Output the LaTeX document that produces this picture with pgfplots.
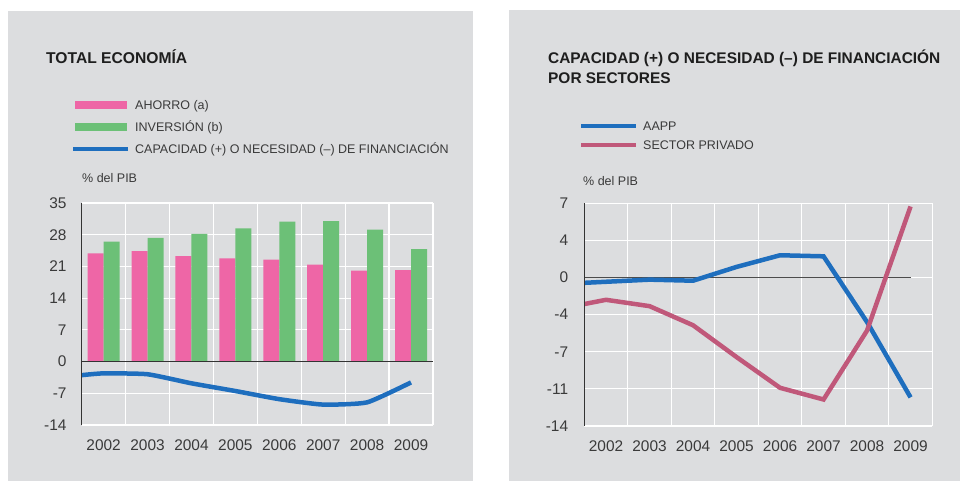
\documentclass[border=0pt]{standalone}
\usepackage{fontspec}
\setmainfont{Liberation Sans}
\usepackage{pgfplots}
\pgfplotsset{compat=1.18}
\definecolor{bg}{HTML}{DCDDDF}
\definecolor{pinkbar}{HTML}{EE66A6}
\definecolor{greenbar}{HTML}{6CC077}
\definecolor{blueline}{HTML}{1E6EBE}
\definecolor{maroonline}{HTML}{C0587A}
\definecolor{txt}{HTML}{3A3A3A}
\definecolor{titlec}{HTML}{1E1E1E}
\pgfplotsset{
  panel/.style={
    scale only axis, anchor=south west, clip=false,
    xmin=-0.5, xmax=7.5,
    xtick={0,1,2,3,4,5,6,7},
    xticklabels={2002,2003,2004,2005,2006,2007,2008,2009},
    minor xtick={-0.5,0.5,1.5,2.5,3.5,4.5,5.5,6.5,7.5},
    xminorgrids=true, ymajorgrids=true, xmajorgrids=false,
    major grid style={white, line width=1.2bp},
    minor grid style={white, line width=1.2bp},
    major tick length=0pt, minor tick length=0pt,
    axis line style={draw=none},
    tick label style={font=\fontsize{15.5}{18}\selectfont, text=txt, inner sep=0pt},
    xticklabel style={yshift=-15bp},
    yticklabel style={xshift=-15bp},
  }
}
\begin{document}
\begin{tikzpicture}
\useasboundingbox (0,0) rectangle (960bp,481bp);
\fill[white] (0,0) rectangle (960bp,481bp);
\begin{scope}[x=1bp,y=1bp]
\fill[bg] (8,0) rectangle (473,470);
\fill[bg] (509,0) rectangle (960,471);
% left titles and legend
\node[anchor=base west, inner sep=0, font=\fontsize{15.7}{18}\selectfont\bfseries, text=titlec] at (46,417.5) {TOTAL ECONOMÍA};
\fill[pinkbar] (75,372) rectangle (127,380);
\fill[greenbar] (75,350.3) rectangle (127,358.3);
\draw[blueline, line width=4bp] (73,331.7) -- (128,331.7);
\begin{scope}[every node/.style={anchor=base west, inner sep=0, font=\fontsize{12.55}{15}\selectfont, text=txt}]
\node at (135,371.6) {AHORRO (a)};
\node at (135,350) {INVERSIÓN (b)};
\node at (135,327.3) {CAPACIDAD (+) O NECESIDAD (–) DE FINANCIACIÓN};
\node at (82,298.6) {\% del PIB};
\end{scope}
% right titles and legend
\node[anchor=base west, inner sep=0, font=\fontsize{15.5}{18}\selectfont\bfseries, text=titlec] at (548,417) {CAPACIDAD (+) O NECESIDAD (–) DE FINANCIACIÓN};
\node[anchor=base west, inner sep=0, font=\fontsize{15.5}{18}\selectfont\bfseries, text=titlec] at (548,397.7) {POR SECTORES};
\draw[blueline, line width=3.8bp] (581,355.3) -- (636,355.3);
\draw[maroonline, line width=3.8bp] (581,336) -- (636,336);
\begin{scope}[every node/.style={anchor=base west, inner sep=0, font=\fontsize{12.55}{15}\selectfont, text=txt}]
\node at (643,351) {AAPP};
\node at (643,331.6) {SECTOR PRIVADO};
\node at (583,295.6) {\% del PIB};
\end{scope}
\end{scope}

% left axis
\begin{axis}[panel, at={(81.7bp,56bp)}, width=351.3bp, height=222bp,
  ymin=-14, ymax=35,
  ytick={-14,-7,0,7,14,21,28,35},
  yticklabels={-14,-7,0,7,14,21,28,35}]
\addplot[ybar, bar width=16bp, bar shift=-8bp, fill=pinkbar, draw=none]
  coordinates {(0,23.9)(1,24.4)(2,23.3)(3,22.8)(4,22.5)(5,21.4)(6,20.1)(7,20.2)};
\addplot[ybar, bar width=16bp, bar shift=8bp, fill=greenbar, draw=none]
  coordinates {(0,26.5)(1,27.3)(2,28.2)(3,29.4)(4,30.9)(5,31.0)(6,29.1)(7,24.8)};
\addplot[black!80, line width=0.9bp, forget plot] coordinates {(-0.5,0)(7.5,0)};
\addplot[blueline, line width=4.5bp, smooth, tension=0.3]
  coordinates {(-0.5,-3.0)(0,-2.6)(1,-2.8)(2,-4.8)(3,-6.5)(4,-8.3)(5,-9.5)(6,-9.0)(7,-4.6)};
\draw[black!80, line width=0.9bp] (rel axis cs:0,0) -- (rel axis cs:0,1);
\end{axis}

% right axis
\begin{axis}[panel, at={(584.3bp,55bp)}, width=348bp, height=222.7bp,
  ymin=-14, ymax=7,
  ytick={-14,-10.5,-7,-3.5,0,3.5,7},
  yticklabels={-14,-11,-7,-4,0,4,7},
  yticklabel style={xshift=-1bp}]
\addplot[black!70, line width=0.9bp, forget plot] coordinates {(-0.5,0)(7,0)};
\addplot[blueline, line width=4.5bp]
  coordinates {(-0.5,-0.5)(0,-0.4)(1,-0.2)(2,-0.3)(3,1.0)(4,2.1)(5,2.0)(6,-4.2)(7,-11.3)};
\addplot[maroonline, line width=4.5bp]
  coordinates {(-0.5,-2.5)(0,-2.1)(1,-2.7)(2,-4.5)(3,-7.5)(4,-10.4)(5,-11.5)(6,-5.0)(7,6.7)};
\draw[black!80, line width=0.9bp] (rel axis cs:0,0) -- (rel axis cs:0,1);
\end{axis}
\end{tikzpicture}
\end{document}
